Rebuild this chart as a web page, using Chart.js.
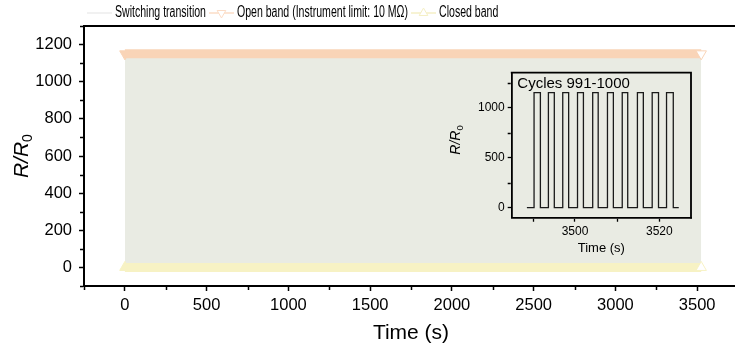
<!DOCTYPE html>
<html>
<head>
<meta charset="utf-8">
<script src="https://cdn.jsdelivr.net/npm/chart.js@4.4.1/dist/chart.umd.min.js"></script>
<style>
  html, body { margin: 0; padding: 0; background: #fff; overflow: hidden; }
  #wrap { position: relative; width: 735px; height: 348px; overflow: hidden; }
  #main { position: absolute; left: 0; top: 0; }
  #inset { position: absolute; left: 440px; top: 60px; }
</style>
</head>
<body>
<div id="wrap">
  <canvas id="main" width="745" height="348"></canvas>
  <canvas id="inset" width="260" height="200"></canvas>
</div>
<script>
// ---- data -------------------------------------------------------------
// R/R0 levels of the two switch states
const openLevel = 1150;          // open state (instrument limit: 10 MOhm)
const closedLevel = 0;           // closed state
// start and end of the 1000-cycle run, s
const runSpan = [0, 3525];

// main axes ticks
const mainTimeTicks = [0, 500, 1000, 1500, 2000, 2500, 3000, 3500];
const mainRatioTicks = [0, 200, 400, 600, 800, 1000, 1200];

// cycles 991-1000: switching times, s
const insetSpan = [3488.6, 3524.6];
const insetRise = [3490.3, 3493.7, 3497.1, 3500.6, 3504.2, 3507.7, 3511.2, 3514.8, 3518.3, 3521.7];
const insetFall = [3491.8, 3495.1, 3498.5, 3502.0, 3505.5, 3509.1, 3512.5, 3516.2, 3519.8, 3523.3];
const insetTimeTicks = [3500, 3520];
const insetRatioTicks = [0, 500, 1000];

const seriesLabels = ['Switching transition', 'Open band (Instrument limit: 10 M\u03A9)', 'Closed band'];

// ---- style ------------------------------------------------------------
const FONT = "'Liberation Sans', Arial, sans-serif";
Chart.defaults.font.family = FONT;
Chart.defaults.color = '#000';

const GRAY = '#e9ebe3';
const ORANGE = '#f9d4b7';
const YELLOW = '#f7f2c4';
const plain = v => String(v);

// R/R0 axis title: italic R/R with upright subscript 0
function drawRatioTitle(ctx, cx, cy, size) {
  ctx.save();
  ctx.translate(cx, cy);
  ctx.rotate(-Math.PI / 2);
  ctx.fillStyle = '#000';
  ctx.textBaseline = 'alphabetic';
  ctx.font = `italic ${size}px ${FONT}`;
  const main = 'R/R';
  const w1 = ctx.measureText(main).width;
  const subSize = size * 0.68;
  ctx.font = `${subSize}px ${FONT}`;
  const w2 = ctx.measureText('0').width;
  const x0 = -(w1 + w2) / 2;
  const base = size * 0.36;
  ctx.font = `italic ${size}px ${FONT}`;
  ctx.fillText(main, x0, base);
  ctx.font = `${subSize}px ${FONT}`;
  ctx.fillText('0', x0 + w1, base + size * 0.22);
  ctx.restore();
}

// frame edges, minor ticks and extra titles
const framePlugin = {
  id: 'frame',
  afterDraw(chart, args, o) {
    const { ctx, chartArea: a, scales } = chart;
    ctx.save();
    ctx.strokeStyle = '#000';
    ctx.lineWidth = o.lineWidth;
    ctx.beginPath();
    ctx.moveTo(a.left - o.lineWidth / 2, a.top);
    ctx.lineTo(a.right, a.top);
    ctx.lineTo(a.right, a.bottom + o.lineWidth / 2);
    ctx.stroke();

    ctx.lineWidth = o.tickWidth;
    const xs = scales.x, ys = scales.y;
    ctx.beginPath();
    for (let v = Math.ceil(xs.min / o.xMinor) * o.xMinor; v <= xs.max; v += o.xMinor) {
      if (Math.abs(v % o.xMajor) < 1e-6) continue;
      const px = Math.round(xs.getPixelForValue(v)) + 0.5;
      ctx.moveTo(px, a.bottom + 1);
      ctx.lineTo(px, a.bottom + 1 + o.minorLen);
    }
    for (let v = Math.ceil(ys.min / o.yMinor) * o.yMinor; v <= ys.max; v += o.yMinor) {
      if (Math.abs(v % o.yMajor) < 1e-6) continue;
      const py = Math.round(ys.getPixelForValue(v)) + 0.5;
      ctx.moveTo(a.left - 1, py);
      ctx.lineTo(a.left - 1 - o.minorLen, py);
    }
    ctx.stroke();

    if (o.ratioTitle) drawRatioTitle(ctx, o.ratioTitle.x, o.ratioTitle.y, o.ratioTitle.size);
    if (o.timeTitle) {
      ctx.fillStyle = '#000';
      ctx.font = `${o.timeTitle.size}px ${FONT}`;
      ctx.textAlign = 'center';
      ctx.textBaseline = 'middle';
      ctx.fillText('Time (s)', (a.left + a.right) / 2, o.timeTitle.y);
    }
    if (o.note) {
      ctx.fillStyle = '#000';
      ctx.font = `${o.note.size}px ${FONT}`;
      ctx.textAlign = 'left';
      ctx.textBaseline = 'alphabetic';
      ctx.fillText(o.note.text, a.left + o.note.dx, a.top + o.note.dy);
    }
    ctx.restore();
  }
};

// legend row: line/marker sample followed by condensed label text
const legendPlugin = {
  id: 'rowLegend',
  afterDraw(chart, args, o) {
    const { ctx } = chart;
    const y = o.y;
    let x = o.x;
    const squeeze = o.squeeze;
    chart.data.datasets.forEach((ds, i) => {
      const c = o.colors[i];
      ctx.save();
      ctx.strokeStyle = c;
      ctx.lineWidth = 1.5;
      ctx.beginPath();
      ctx.moveTo(x, y);
      ctx.lineTo(x + o.sample, y);
      ctx.stroke();
      if (o.markers[i]) {
        const cx = x + o.sample / 2, r = 5;
        const rot = o.markers[i] === 'down' ? Math.PI : 0;
        ctx.beginPath();
        for (let k = 0; k < 3; k++) {
          const ang = rot + k * 2 * Math.PI / 3;
          const px = cx + Math.sin(ang) * r, py = y - Math.cos(ang) * r;
          k ? ctx.lineTo(px, py) : ctx.moveTo(px, py);
        }
        ctx.closePath();
        ctx.fillStyle = '#fff';
        ctx.fill();
        ctx.lineWidth = 1;
        ctx.stroke();
      }
      ctx.restore();
      x += o.sample + o.gap;
      ctx.save();
      ctx.font = `${o.size}px ${FONT}`;
      ctx.fillStyle = '#000';
      ctx.textBaseline = 'middle';
      ctx.textAlign = 'left';
      ctx.translate(x, y);
      ctx.scale(squeeze, 1);
      ctx.fillText(ds.label, 0, 0);
      const w = ctx.measureText(ds.label).width * squeeze;
      ctx.restore();
      x += w + o.after;
    });
  }
};

// ---- main chart ---------------------------------------------------------
const levelPoints = (level) => runSpan.map(t => ({ x: t, y: level }));

new Chart(document.getElementById('main'), {
  type: 'line',
  data: {
    datasets: [
      {
        label: seriesLabels[0],
        data: levelPoints(openLevel),
        fill: { value: closedLevel },
        backgroundColor: GRAY,
        borderColor: GRAY,
        borderWidth: 0,
        pointRadius: 0,
        order: 3
      },
      {
        label: seriesLabels[1],
        data: levelPoints(openLevel),
        borderColor: ORANGE,
        borderWidth: 9,
        borderCapStyle: 'butt',
        pointStyle: 'triangle',
        rotation: 180,
        pointRadius: 6,
        pointBackgroundColor: [ORANGE, '#ffffff'],
        pointBorderColor: ORANGE,
        pointBorderWidth: 1,
        order: 2
      },
      {
        label: seriesLabels[2],
        data: levelPoints(closedLevel),
        borderColor: YELLOW,
        borderWidth: 9,
        borderCapStyle: 'butt',
        pointStyle: 'triangle',
        rotation: 0,
        pointRadius: 6,
        pointBackgroundColor: [YELLOW, '#ffffff'],
        pointBorderColor: YELLOW,
        pointBorderWidth: 1,
        order: 1
      }
    ]
  },
  options: {
    responsive: false,
    animation: false,
    devicePixelRatio: 1,
    layout: { padding: { top: 26, right: 5, left: 0, bottom: 0 } },
    plugins: {
      legend: { display: false },
      tooltip: { enabled: false },
      frame: {
        lineWidth: 2, tickWidth: 1.5, minorLen: 3,
        xMinor: 250, xMajor: 500, yMinor: 100, yMajor: 200,
        ratioTitle: { x: 20, y: 156, size: 21 }
      },
      rowLegend: {
        x: 87, y: 13, sample: 25, gap: 3, after: 3, size: 16, squeeze: 0.66,
        colors: ['#ececec', '#fbdcc6', '#f4efc6'],
        markers: [null, 'down', 'up']
      }
    },
    scales: {
      x: {
        type: 'linear',
        min: -250, max: 3750,
        afterFit: s => { s.height = 62; },
        afterBuildTicks: s => { s.ticks = mainTimeTicks.map(v => ({ value: v })); },
        ticks: { font: { size: 16.5 }, color: '#000', padding: 5, maxRotation: 0, callback: plain },
        grid: { drawOnChartArea: false, tickLength: 5, tickWidth: 1.5, tickColor: '#000' },
        border: { display: true, width: 2, color: '#000' },
        title: { display: true, text: 'Time (s)', font: { size: 21 }, color: '#000', padding: { top: 2, bottom: 2 } }
      },
      y: {
        type: 'linear',
        min: -100, max: 1300,
        afterFit: s => { s.width = 84; },
        afterBuildTicks: s => { s.ticks = mainRatioTicks.map(v => ({ value: v })); },
        ticks: { font: { size: 16.5 }, color: '#000', padding: 7, callback: plain },
        grid: { drawOnChartArea: false, tickLength: 5, tickWidth: 1.5, tickColor: '#000' },
        border: { display: true, width: 2, color: '#000' }
      }
    }
  },
  plugins: [framePlugin, legendPlugin]
});

// ---- inset: cycles 991-1000 --------------------------------------------
const insetPoints = [{ x: insetSpan[0], y: closedLevel }];
insetRise.forEach((t, i) => {
  insetPoints.push({ x: t, y: closedLevel }, { x: t, y: openLevel },
                   { x: insetFall[i], y: openLevel }, { x: insetFall[i], y: closedLevel });
});
insetPoints.push({ x: insetSpan[1], y: closedLevel });

new Chart(document.getElementById('inset'), {
  type: 'line',
  data: {
    datasets: [{
      label: 'Cycles 991-1000',
      data: insetPoints,
      borderColor: '#1a1a1a',
      borderWidth: 1.3,
      pointRadius: 0,
      tension: 0
    }]
  },
  options: {
    responsive: false,
    animation: false,
    devicePixelRatio: 1,
    layout: { padding: { top: 12.7, right: 9, left: 0, bottom: 0 } },
    plugins: {
      legend: { display: false },
      tooltip: { enabled: false },
      frame: {
        lineWidth: 1.8, tickWidth: 1.3, minorLen: 3,
        xMinor: 10, xMajor: 20, yMinor: 250, yMajor: 500,
        ratioTitle: { x: 15, y: 80, size: 14 },
        timeTitle: { y: 188.5, size: 13 },
        note: { text: 'Cycles 991-1000', size: 15, dx: 5.6, dy: 15.6 }
      }
    },
    scales: {
      x: {
        type: 'linear',
        min: 3485, max: 3527.5,
        afterFit: s => { s.height = 42.3; },
        afterBuildTicks: s => { s.ticks = insetTimeTicks.map(v => ({ value: v })); },
        ticks: { font: { size: 12 }, color: '#000', padding: 3, maxRotation: 0, callback: plain },
        grid: { drawOnChartArea: false, tickLength: 4, tickWidth: 1.3, tickColor: '#000' },
        border: { display: true, width: 1.8, color: '#000' }
      },
      y: {
        type: 'linear',
        min: -100, max: 1350,
        afterFit: s => { s.width = 71.7; },
        afterBuildTicks: s => { s.ticks = insetRatioTicks.map(v => ({ value: v })); },
        ticks: { font: { size: 12 }, color: '#000', padding: 3, callback: plain },
        grid: { drawOnChartArea: false, tickLength: 4, tickWidth: 1.3, tickColor: '#000' },
        border: { display: true, width: 1.8, color: '#000' }
      }
    }
  },
  plugins: [framePlugin]
});
</script>
</body>
</html>
